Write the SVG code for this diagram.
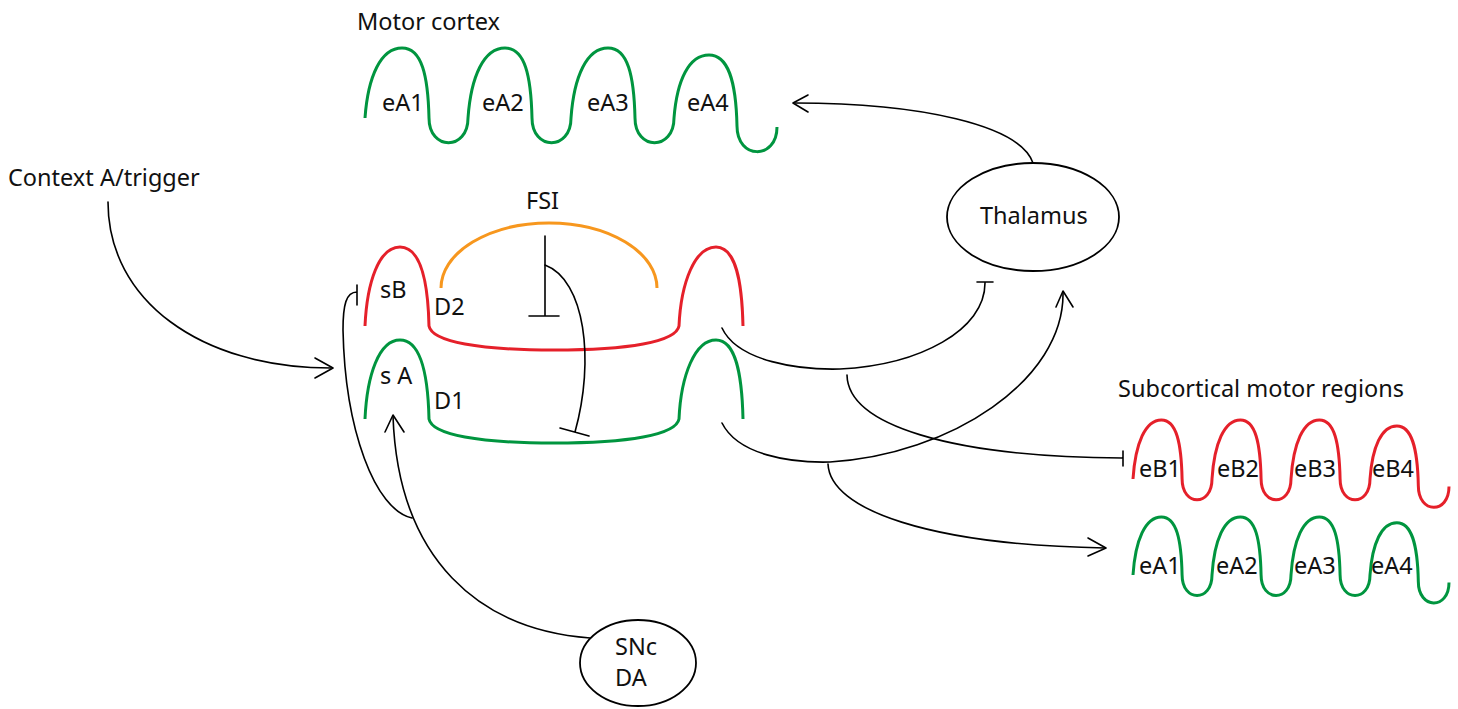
<svg xmlns="http://www.w3.org/2000/svg" width="1458" height="709" viewBox="0 0 1458 709">
<style>
text{font-family:"Noto Sans","Liberation Sans",sans-serif;font-size:23.5px;fill:#111}
.g{fill:none;stroke:#00953F;stroke-width:3}
.r{fill:none;stroke:#E5202A;stroke-width:3}
.o{fill:none;stroke:#F7971E;stroke-width:3}
.k{fill:none;stroke:#000;stroke-width:1.6;stroke-linecap:round;stroke-linejoin:round}
.e{fill:#fff;stroke:#000;stroke-width:1.8}
</style>
<defs>
<path id="wave" vector-effect="non-scaling-stroke" d="M0,0 C3,-42 16,-70 37,-70 C57,-70 63,-42 64,0 C64,33 103,33 103,0 C106,-42 119,-70 140,-70 C160,-70 166,-42 167,0 C167,33 206,33 206,0 C209,-42 222,-70 243,-70 C263,-70 269,-42 270,0 C270,33 309,33 309,0 C312,-38 324,-63 344,-63 C363,-63 371,-38 372,8 C372,42 412,42 412,9"/>
<path id="striatum" d="M365,326 C367,282 379,247 400,247 C421,247 428,282 429,326 C432,342 480,350 554,350 C628,350 676,342 679,326 C681,282 695,247 716,247 C736,247 742,282 743,326"/>
</defs>

<g id="motor-cortex">
<text x="357" y="30">Motor cortex</text>
<use href="#wave" class="g" transform="translate(365,118)"/>
<text x="382" y="111">eA1</text>
<text x="482" y="111">eA2</text>
<text x="587" y="111">eA3</text>
<text x="687" y="111">eA4</text>
</g>

<g id="context">
<text x="8" y="186">Context A/trigger</text>
</g>

<g id="fsi">
<text x="526" y="209">FSI</text>
<path class="o" d="M441,288 A108,65 0 0 1 657,288"/>
</g>

<g id="sB-D2">
<use href="#striatum" class="r"/>
<text x="380" y="298">sB</text>
<text x="434" y="315">D2</text>
</g>

<g id="sA-D1">
<use href="#striatum" class="g" transform="translate(0,93)"/>
<text x="380" y="384">s A</text>
<text x="434" y="409">D1</text>
</g>

<g id="thalamus">
<ellipse class="e" cx="1033" cy="217" rx="86" ry="54"/>
<text x="980" y="224">Thalamus</text>
</g>

<g id="snc">
<ellipse class="e" cx="638" cy="663" rx="58" ry="43"/>
<text x="615" y="655">SNc</text>
<text x="615" y="686">DA</text>
</g>

<g id="subcortical">
<text x="1118" y="397">Subcortical motor regions</text>
<use href="#wave" class="r" transform="translate(1133,479) scale(0.767,0.843)"/>
<text x="1139" y="477">eB1</text>
<text x="1217" y="477">eB2</text>
<text x="1294" y="477">eB3</text>
<text x="1372" y="477">eB4</text>
<use href="#wave" class="g" transform="translate(1133,575) scale(0.767,0.83)"/>
<text x="1139" y="574">eA1</text>
<text x="1216" y="574">eA2</text>
<text x="1294" y="574">eA3</text>
<text x="1371" y="574">eA4</text>
</g>

<g id="connectors">
<path class="k" d="M108,202 C108,300 200,368 331,368"/>
<path class="k" d="M315,358 L333,368 L315,378"/>
<path class="k" d="M545,236 L545,316 M529,316 L559,316"/>
<path class="k" d="M545,265 C585,280 595,360 575,432 M560,428 L589,436"/>
<path class="k" d="M357,285 L357,305 M357,292 C346,292 343,305 343,330 C345,430 375,510 412,518"/>
<path class="k" d="M590,638 C480,630 398,560 393,416"/>
<path class="k" d="M385,432 L393,415 L404,432"/>
<path class="k" d="M1033,163 C1020,125 920,103 795,103"/>
<path class="k" d="M808,95 L793,103 L808,112"/>
<path class="k" d="M722,328 C738,362 800,370 840,369 C920,365 985,330 985,283 M977,282 L993,282"/>
<path class="k" d="M847,375 C848,425 950,457 1122,458 M1123,451 L1123,466"/>
<path class="k" d="M722,423 C738,455 790,463 830,462 C950,455 1065,380 1063,292"/>
<path class="k" d="M1056,307 L1063,291 L1073,307"/>
<path class="k" d="M828,464 C830,510 930,545 1105,548"/>
<path class="k" d="M1088,538 L1106,548 L1088,556"/>
</g>
</svg>
